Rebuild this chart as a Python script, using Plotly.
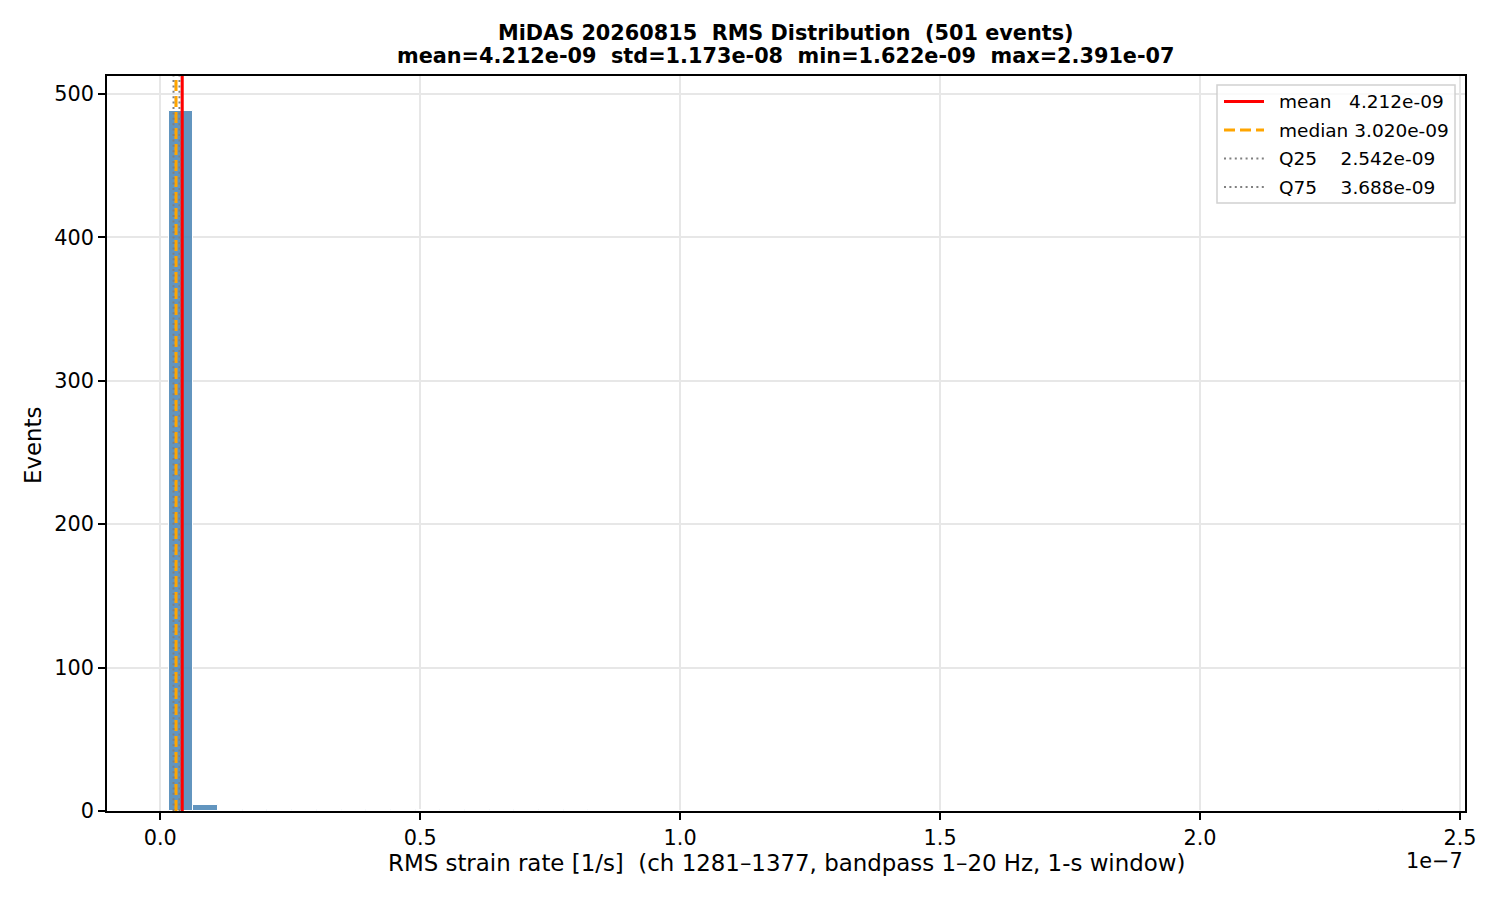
import numpy as np
import plotly.graph_objects as go

# ---- data ----
rms_min = 1.622e-9
rms_max = 2.391e-7
n_bins = 50
counts = [488, 4, 0, 1, 1, 0, 1, 0, 1, 0,
          1, 0, 1, 0, 1, 0, 1, 0, 0, 0,
          0, 0, 0, 0, 0, 0, 0, 0, 0, 0,
          0, 0, 0, 0, 0, 0, 0, 0, 0, 0,
          0, 0, 0, 0, 0, 0, 0, 0, 0, 1]
stat_names = ["mean", "median", "Q25", "Q75"]
stat_values = [4.212e-9, 3.020e-9, 2.542e-9, 3.688e-9]
stat_std = 1.173e-8
n_events = 501
x_tick_vals = [0.0, 0.5e-7, 1.0e-7, 1.5e-7, 2.0e-7, 2.5e-7]
x_tick_text = ["0.0", "0.5", "1.0", "1.5", "2.0", "2.5"]
y_tick_vals = [0, 100, 200, 300, 400, 500]

# ---- layout geometry (pixels, in screenshot coordinates) ----
OFF = 8  # page body margin
W, H = 1500 - OFF, 900 - OFF
L, R, T, B = 107, 1465, 76, 811
pw, ph = R - L, B - T
def xp(px): return (px - L) / pw
def yp(py): return (B - py) / ph

edges = np.linspace(rms_min, rms_max, n_bins + 1)
centers = (edges[:-1] + edges[1:]) / 2
bw = edges[1] - edges[0]
span = rms_max - rms_min
x_range = [rms_min - 0.05 * span, rms_max + 0.05 * span]
y_range = [0, max(counts) * 1.05]

FONT = "DejaVu Sans"
fig = go.Figure()
fig.add_trace(go.Bar(
    x=centers, y=counts, width=bw,
    marker=dict(color="rgba(70,130,180,0.85)", line=dict(color="white", width=1)),
    showlegend=False, hoverinfo="skip"))

line_styles = [
    dict(color="red", width=3.1, dash="solid"),
    dict(color="orange", width=3.1, dash="11px,5px"),
    dict(color="gray", width=2, dash="2px,3.4px"),
    dict(color="gray", width=2, dash="2px,3.4px"),
]
shapes = []
for v, st in zip(stat_values, line_styles):
    shapes.append(dict(type="line", xref="x", yref="paper", x0=v, x1=v, y0=0, y1=1,
                       line=st, layer="above"))

# legend box
shapes.append(dict(type="rect", xref="paper", yref="paper",
                   x0=xp(1217), x1=xp(1455), y0=yp(203), y1=yp(85),
                   line=dict(color="rgba(204,204,204,0.9)", width=1.5),
                   fillcolor="rgba(255,255,255,0.8)", layer="above"))
rows = [101.5, 130, 158.5, 187]
pad_names = [n + "\u00a0" * (max(6 - len(n), 0) + 1) for n in stat_names]
annotations = []
for r, st, nm, v in zip(rows, line_styles, pad_names, stat_values):
    shapes.append(dict(type="line", xref="paper", yref="paper",
                       x0=xp(1224), x1=xp(1264), y0=yp(r), y1=yp(r),
                       line=dict(st), layer="above"))
    annotations.append(dict(xref="paper", yref="paper", x=xp(1277), y=yp(r),
                            xanchor="left", yanchor="middle", showarrow=False,
                            text=f"{nm}{v:.3e}", font=dict(size=18.5, color="black")))

# titles
annotations.append(dict(xref="paper", yref="paper", x=0.5, y=yp(33), xanchor="center",
                        yanchor="middle", showarrow=False,
                        text=f"<b>MiDAS 20260815\u00a0\u00a0RMS Distribution\u00a0\u00a0({n_events} events)</b>",
                        font=dict(size=20.8, color="black")))
annotations.append(dict(xref="paper", yref="paper", x=0.5, y=yp(56), xanchor="center",
                        yanchor="middle", showarrow=False,
                        text=(f"<b>mean={stat_values[0]:.3e}\u00a0\u00a0std={stat_std:.3e}"
                              f"\u00a0\u00a0min={rms_min:.3e}\u00a0\u00a0max={rms_max:.3e}</b>"),
                        font=dict(size=20.8, color="black")))
# axis labels
annotations.append(dict(xref="paper", yref="paper", x=0.5, y=yp(863), xanchor="center",
                        yanchor="middle", showarrow=False,
                        text="RMS strain rate [1/s]\u00a0\u00a0(ch 1281–1377, bandpass 1–20 Hz, 1-s window)",
                        font=dict(size=22.9, color="black")))
annotations.append(dict(xref="paper", yref="paper", x=xp(33), y=yp(445), xanchor="center",
                        yanchor="middle", showarrow=False, textangle=-90,
                        text="Events", font=dict(size=22.9, color="black")))
annotations.append(dict(xref="paper", yref="paper", x=1, y=yp(861), xanchor="right",
                        yanchor="middle", showarrow=False,
                        text="1e\u22127", font=dict(size=20.8, color="black")))

axis_common = dict(showline=True, linecolor="black", linewidth=1.7, mirror=True,
                   ticks="outside", ticklen=7, tickwidth=1.7, tickcolor="black",
                   showgrid=True, gridcolor="#e7e7e7", gridwidth=1.6, zeroline=False,
                   tickfont=dict(size=20.8, color="black"))
fig.update_layout(
    width=W, height=H,
    margin=dict(l=L - OFF, r=1500 - R, t=T - OFF, b=900 - B, autoexpand=False),
    paper_bgcolor="white", plot_bgcolor="white",
    font=dict(family=FONT, color="black"),
    showlegend=False, bargap=0,
    xaxis=dict(range=x_range, tickvals=x_tick_vals, ticktext=x_tick_text, **axis_common),
    yaxis=dict(range=y_range, tickvals=y_tick_vals, **axis_common),
    shapes=shapes, annotations=annotations,
)
fig.write_html("out.html")
